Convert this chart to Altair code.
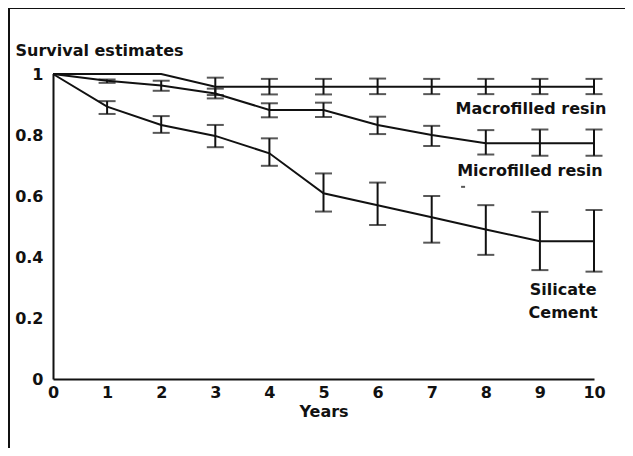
import altair as alt
import pandas as pd

years = [0, 1, 2, 3, 4, 5, 6, 7, 8, 9, 10]

macro_val = [1.0, 1.0, 1.0, 0.958, 0.958, 0.958, 0.958, 0.958, 0.958, 0.958, 0.958]
macro_lo = [None, None, None, 0.931, 0.933, 0.933, 0.934, 0.934, 0.934, 0.934, 0.934]
macro_hi = [None, None, None, 0.988, 0.984, 0.984, 0.985, 0.984, 0.984, 0.984, 0.984]

micro_val = [1.0, 0.978, 0.962, 0.936, 0.882, 0.882, 0.833, 0.800, 0.773, 0.773, 0.773]
micro_lo = [None, 0.971, 0.945, 0.92, 0.858, 0.859, 0.803, 0.764, 0.736, 0.732, 0.732]
micro_hi = [None, 0.982, 0.978, 0.952, 0.904, 0.906, 0.860, 0.830, 0.816, 0.818, 0.818]

sil_val = [1.0, 0.893, 0.833, 0.797, 0.740, 0.609, 0.570, 0.530, 0.490, 0.452, 0.452]
sil_lo = [None, 0.869, 0.807, 0.760, 0.699, 0.549, 0.505, 0.447, 0.407, 0.357, 0.352]
sil_hi = [None, 0.911, 0.862, 0.833, 0.789, 0.674, 0.644, 0.600, 0.570, 0.548, 0.554]

label_text = ["Macrofilled resin", "Microfilled resin", "Silicate", "Cement"]
label_x = [7.44, 7.47, 9.43, 9.43]
label_y = [0.885, 0.683, 0.293, 0.217]
label_align = ["left", "left", "center", "center"]

dash_x = [7.58]
dash_y = [0.630]

rows = []
for name, v, lo, hi in [("Macrofilled resin", macro_val, macro_lo, macro_hi),
                        ("Microfilled resin", micro_val, micro_lo, micro_hi),
                        ("Silicate Cement", sil_val, sil_lo, sil_hi)]:
    for i, yr in enumerate(years):
        rows.append({"series": name, "year": yr, "value": v[i], "lo": lo[i], "hi": hi[i]})
df = pd.DataFrame(rows)
err = df.dropna(subset=["lo"])

lab = pd.DataFrame({"text": label_text, "x": label_x, "y": label_y, "align": label_align})
dash = pd.DataFrame({"x": dash_x, "y": dash_y})

FONT = "DejaVu Sans"
INK = "#111111"
FS = 16

xs = alt.Scale(domain=[0, 10], nice=False)
ys = alt.Scale(domain=[0, 1], nice=False)

xaxis = alt.Axis(values=years, title="Years", labelFont=FONT, labelFontWeight="bold",
                 labelFontSize=FS, labelColor=INK, titleFont=FONT, titleFontWeight="bold",
                 titleFontSize=FS, titleColor=INK, ticks=False, grid=False, domainColor=INK,
                 domainWidth=2, labelPadding=5, titlePadding=3, labelFlush=False)
yaxis = alt.Axis(values=[0, 0.2, 0.4, 0.6, 0.8, 1], title="Survival estimates",
                 labelExpr="datum.value == 0 ? '0' : (datum.value == 1 ? '1' : format(datum.value, '.1f'))",
                 labelFont=FONT, labelFontWeight="bold", labelFontSize=FS, labelColor=INK,
                 titleFont=FONT, titleFontWeight="bold", titleFontSize=FS, titleColor=INK,
                 titleAngle=0, titleAlign="left", titleBaseline="middle", titleX=-38, titleY=-24,
                 ticks=False, grid=False, domainColor=INK, domainWidth=2, labelPadding=10,
                 labelFlush=False)

base = alt.Chart(df)
lines = base.mark_line(color=INK, strokeWidth=2).encode(
    x=alt.X("year:Q", scale=xs, axis=xaxis),
    y=alt.Y("value:Q", scale=ys, axis=yaxis),
    detail="series:N",
)
bars = alt.Chart(err).mark_rule(color=INK, strokeWidth=2).encode(
    x=alt.X("year:Q", scale=xs), y=alt.Y("lo:Q", scale=ys), y2="hi:Q")
caps_lo = alt.Chart(err).mark_tick(color=INK, thickness=2, size=17, orient="horizontal").encode(
    x=alt.X("year:Q", scale=xs), y=alt.Y("lo:Q", scale=ys))
caps_hi = alt.Chart(err).mark_tick(color=INK, thickness=2, size=17, orient="horizontal").encode(
    x=alt.X("year:Q", scale=xs), y=alt.Y("hi:Q", scale=ys))
dash_mark = alt.Chart(dash).mark_tick(color=INK, thickness=2, size=4, orient="horizontal").encode(
    x=alt.X("x:Q", scale=xs), y=alt.Y("y:Q", scale=ys))

lab_left = alt.Chart(lab[lab["align"] == "left"]).mark_text(
    font=FONT, fontWeight="bold", fontSize=FS, color=INK, align="left", baseline="middle").encode(
    x=alt.X("x:Q", scale=xs), y=alt.Y("y:Q", scale=ys), text="text:N")
lab_center = alt.Chart(lab[lab["align"] == "center"]).mark_text(
    font=FONT, fontWeight="bold", fontSize=FS, color=INK, align="center", baseline="middle").encode(
    x=alt.X("x:Q", scale=xs), y=alt.Y("y:Q", scale=ys), text="text:N")

frame_top = alt.Chart(df).mark_rule(color=INK, strokeWidth=2).encode(
    x=alt.value(-44), x2=alt.value(600), y=alt.value(-66))
frame_left = alt.Chart(df).mark_rule(color=INK, strokeWidth=2).encode(
    x=alt.value(-44), y=alt.value(-66), y2=alt.value(400))

chart = alt.layer(lines, bars, caps_lo, caps_hi, dash_mark, lab_left, lab_center,
                  frame_top, frame_left).properties(
    width=541, height=305,
    background="white",
    autosize=alt.AutoSizeParams(type="none"),
    padding={"left": 45, "top": 66, "right": 31, "bottom": 69},
).configure_view(stroke=None)

chart.save("out.html", embed_options={"renderer": "svg", "actions": False})
